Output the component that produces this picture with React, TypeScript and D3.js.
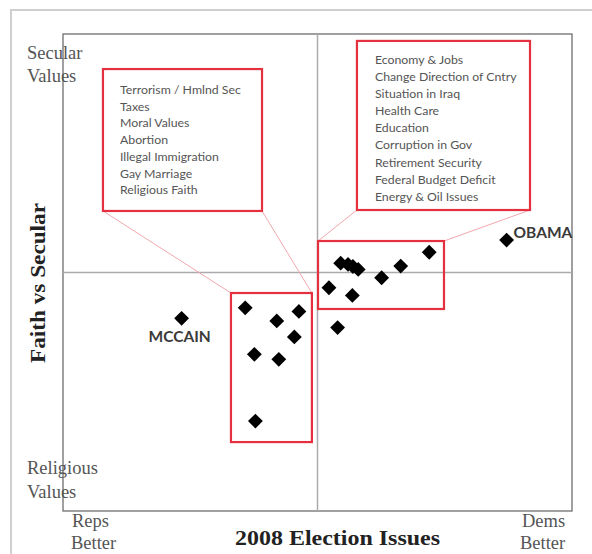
import React from "react";
import * as d3 from "d3";

// ---- data ----
const repIssues = [
  "Terrorism / Hmlnd Sec",
  "Taxes",
  "Moral Values",
  "Abortion",
  "Illegal Immigration",
  "Gay Marriage",
  "Religious Faith",
];
const demIssues = [
  "Economy & Jobs",
  "Change Direction of Cntry",
  "Situation in Iraq",
  "Health Care",
  "Education",
  "Corruption in Gov",
  "Retirement Security",
  "Federal Budget Deficit",
  "Energy & Oil Issues",
];
// issue points (x: Reps better -> Dems better, y: Religious -> Secular)
const issueX = [-2.84, -0.73, -1.6, -0.91, -2.48, -1.52, -2.44, 4.39, 0.91, 1.2, 1.39, 1.6, 3.27, 2.52, 0.45, 1.37, 0.79];
const issueY = [-1.48, -1.63, -2.03, -2.7, -3.43, -3.64, -6.23, 0.85, 0.39, 0.34, 0.25, 0.13, 0.27, -0.22, -0.64, -0.96, -2.31];
const candidates = ["MCCAIN", "OBAMA"];
const candX = [-5.34, 7.43];
const candY = [-1.92, 1.36];

// ---- layout ----
const W = 592;
const H = 554;
const PL = 63, PR = 572, PT = 34, PB = 511;

export default function App() {
  const x = d3.scaleLinear().domain([-10, 10]).range([PL, PR]);
  const y = d3.scaleLinear().domain([-10, 10]).range([PB, PT]);
  const diamond = d3.symbol(d3.symbolSquare, 110)() as string;

  // annotation boxes in data units [x0, x1, y0(top), y1(bottom)]
  const repData = [-3.4, -0.22, -0.86, -7.11];
  const demData = [0.02, 4.97, 1.32, -1.53];
  const repText = [-8.43, -2.18, 8.53, 2.58];
  const demText = [1.55, 8.35, 9.71, 2.62];

  const rect = (b: number[], key: string) => (
    <rect
      key={key}
      x={x(b[0])}
      y={y(b[2])}
      width={x(b[1]) - x(b[0])}
      height={y(b[3]) - y(b[2])}
      fill="none"
      stroke="#e5303f"
      strokeWidth={2.2}
    />
  );

  const pink = "#f2a7ae";
  const serif = "'Liberation Serif', 'Times New Roman', serif";
  const sans = "Lato, 'Open Sans', sans-serif";

  return (
    <svg
      width={W}
      height={H}
      style={{ position: "absolute", left: 0, top: 0, background: "#fff" }}
    >
      {/* outer frame */}
      <rect x={11} y={10} width={W} height={H} fill="none" stroke="#cfcfcf" strokeWidth={2} />

      {/* plot border */}
      <rect x={PL} y={PT} width={PR - PL} height={PB - PT} fill="none" stroke="#6d6d6d" strokeWidth={1.3} />
      {/* quadrant lines */}
      <line x1={x(0)} x2={x(0)} y1={PT} y2={PB} stroke="#ababab" strokeWidth={1.5} />
      <line x1={PL} x2={PR} y1={y(0)} y2={y(0)} stroke="#ababab" strokeWidth={1.5} />

      {/* connectors */}
      <g stroke={pink} strokeWidth={1}>
        <line x1={x(repText[0])} y1={y(repText[3])} x2={x(repData[0])} y2={y(repData[2])} />
        <line x1={x(repText[1])} y1={y(repText[3])} x2={x(repData[1])} y2={y(repData[2])} />
        <line x1={x(demText[0])} y1={y(demText[3])} x2={x(demData[0])} y2={y(demData[2])} />
        <line x1={x(demText[1])} y1={y(demText[3])} x2={x(demData[1])} y2={y(demData[2])} />
      </g>

      {/* boxes */}
      {rect(repText, "rt")}
      {rect(demText, "dt")}
      {rect(repData, "rd")}
      {rect(demData, "dd")}

      {/* box texts */}
      <g fontFamily={sans} fontSize={12.3} fill="#555">
        {repIssues.map((t, i) => (
          <text key={t} x={x(repText[0]) + 17} y={y(repText[2]) + 25 + i * 16.7}>
            {t}
          </text>
        ))}
        {demIssues.map((t, i) => (
          <text key={t} x={x(demText[0]) + 18} y={y(demText[2]) + 23 + i * 17.1}>
            {t}
          </text>
        ))}
      </g>

      {/* points */}
      <g fill="#000">
        {issueX.map((v, i) => (
          <path key={i} d={diamond} transform={`translate(${x(v)},${y(issueY[i])}) rotate(45)`} />
        ))}
        {candX.map((v, i) => (
          <path key={"c" + i} d={diamond} transform={`translate(${x(v)},${y(candY[i])}) rotate(45)`} />
        ))}
      </g>
      <g fontFamily={sans} fontWeight="bold" fontSize={15.5} fill="#3a3a3a">
        <text x={x(candX[0]) - 2} y={y(candY[0]) + 24} textAnchor="middle">{candidates[0]}</text>
        <text x={x(candX[1]) + 7} y={y(candY[1]) - 2}>{candidates[1]}</text>
      </g>

      {/* corner labels */}
      <g fontFamily={serif} fontSize={18.5} fill="#555">
        <text x={27} y={59}>Secular</text>
        <text x={27} y={82}>Values</text>
        <text x={27} y={474}>Religious</text>
        <text x={27} y={498}>Values</text>
        <text x={72} y={527}>Reps</text>
        <text x={71} y={549}>Better</text>
        <text x={522} y={527}>Dems</text>
        <text x={520} y={549}>Better</text>
      </g>

      {/* axis titles */}
      <text
        x={337.5}
        y={545}
        textAnchor="middle"
        fontFamily={serif}
        fontWeight="bold"
        fontSize={20}
        textLength={205}
        lengthAdjust="spacingAndGlyphs"
        fill="#222"
      >
        2008 Election Issues
      </text>
      <text
        transform={`translate(45,283) rotate(-90)`}
        textAnchor="middle"
        fontFamily={serif}
        fontWeight="bold"
        fontSize={20}
        textLength={160}
        lengthAdjust="spacingAndGlyphs"
        fill="#222"
      >
        Faith vs Secular
      </text>
    </svg>
  );
}
